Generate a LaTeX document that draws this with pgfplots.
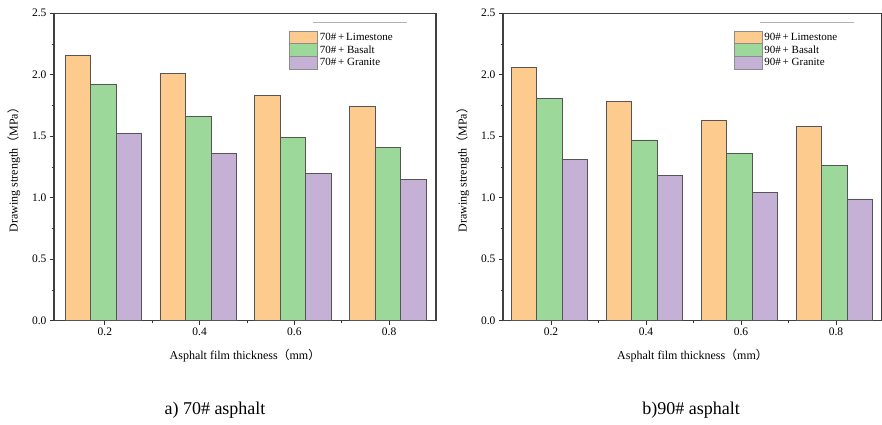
\documentclass[border=0pt]{standalone}
\usepackage{fontspec}
\setmainfont{Liberation Serif}
\newfontfamily\cjk{Noto Sans CJK SC}
\usepackage{pgfplots}
\pgfplotsset{compat=1.18}
\definecolor{cora}{HTML}{FECB8E}
\definecolor{cgrn}{HTML}{9BD89A}
\definecolor{cpur}{HTML}{C5B1D6}
\definecolor{cedge}{HTML}{555555}

\pgfplotsset{
  panel/.style={
    scale only axis,
    width=382pt, height=307.5pt,
    anchor=south west,
    ybar=0pt, bar width=25.5pt,
    ymin=0, ymax=2.5,
    ytick={0,0.5,...,2.5},
    minor y tick num=1,
    xtick={0,1,2,3},
    xticklabels={0.2,0.4,0.6,0.8},
    minor x tick num=1,
    xtick pos=bottom, ytick pos=left,
    tick align=outside,
    major tick length=4pt, minor tick length=2.5pt,
    tick style={color=black!80, line width=0.9pt},
    axis line style={color=black!75, line width=1.1pt},
    yticklabel style={/pgf/number format/.cd, fixed, fixed zerofill, precision=1},
    /pgf/number format/assume math mode=true,
    ticklabel style={font=\fontsize{11.5}{12}\selectfont},
    label style={font=\fontsize{12}{13}\selectfont},
    xlabel={Asphalt film thickness{\cjk （}mm{\cjk ）}},
    ylabel={Drawing strength{\cjk （}MPa{\cjk ）}},
    xlabel style={yshift=-6pt},
    ylabel style={yshift=5pt},
    legend style={at={(0.607,0.95)}, anchor=north west, draw=none, fill=none,
      font=\fontsize{11}{12}\selectfont, row sep=-1.6pt,
      /tikz/every even column/.append style={column sep=0pt}},
    legend image code/.code={\draw[#1, draw=black!45, line width=0.8pt] (0pt,-6.6pt) rectangle (28pt,6.6pt);},
    legend cell align=left,
  },
}

\begin{document}
\begin{tikzpicture}
\path[use as bounding box] (0,0) rectangle (882pt,424pt);

\begin{axis}[panel, at={(54pt,103.3pt)}, xmin=-0.537, xmax=3.495]
\addplot[fill=cora, draw=cedge, line width=0.7pt, bar shift=-27pt] coordinates {(0,2.16) (1,2.01) (2,1.83) (3,1.74)};
\addlegendentry{70\#\,+\,Limestone}
\addplot[fill=cgrn, draw=cedge, line width=0.7pt, bar shift=-1.5pt] coordinates {(0,1.92) (1,1.66) (2,1.49) (3,1.41)};
\addlegendentry{70\#\,+\ Basalt}
\addplot[fill=cpur, draw=cedge, line width=0.7pt, bar shift=24pt] coordinates {(0,1.52) (1,1.36) (2,1.20) (3,1.15)};
\addlegendentry{70\#\,+\ Granite}
\draw[black!30, line width=0.6pt] (rel axis cs:0.677,0.969) -- (rel axis cs:0.925,0.969);
\end{axis}

\begin{axis}[panel, at={(503pt,103.3pt)}, width=379pt, xmin=-0.505, xmax=3.484,
  legend style={at={(0.6,0.95)}}]
\addplot[fill=cora, draw=cedge, line width=0.7pt, bar shift=-27pt] coordinates {(0,2.06) (1,1.78) (2,1.63) (3,1.58)};
\addlegendentry{90\#\,+\,Limestone}
\addplot[fill=cgrn, draw=cedge, line width=0.7pt, bar shift=-1.5pt] coordinates {(0,1.81) (1,1.47) (2,1.36) (3,1.26)};
\addlegendentry{90\#\,+\ Basalt}
\addplot[fill=cpur, draw=cedge, line width=0.7pt, bar shift=24pt] coordinates {(0,1.31) (1,1.18) (2,1.04) (3,0.99)};
\addlegendentry{90\#\,+\ Granite}
\draw[black!30, line width=0.6pt] (rel axis cs:0.677,0.969) -- (rel axis cs:0.925,0.969);
\end{axis}

\node[font=\fontsize{18}{20}\selectfont, anchor=base] at (215pt,10pt) {a) 70\# asphalt};
\node[font=\fontsize{18}{20}\selectfont, anchor=base] at (691pt,10pt) {b)90\# asphalt};
\end{tikzpicture}
\end{document}
